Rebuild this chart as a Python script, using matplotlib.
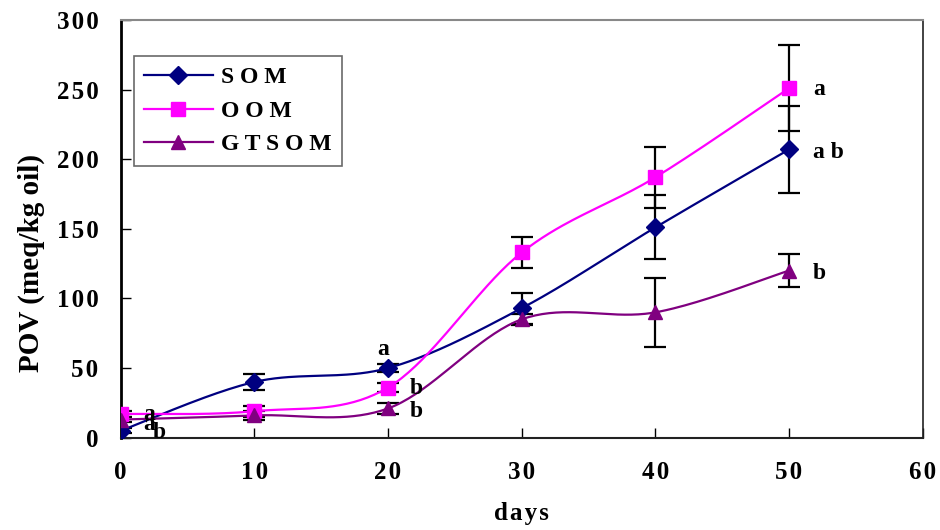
import numpy as np
import matplotlib
matplotlib.use("Agg")
import matplotlib.pyplot as plt
from matplotlib.lines import Line2D
from matplotlib.ticker import FuncFormatter

# Storage time (days) and peroxide values (meq/kg oil)
days = [0, 10, 20, 30, 40, 50]
som = [5, 40, 50, 93, 151, 207]
som_err = [2, 6, 3, 11, 23, 31]
oom = [17, 19, 36, 133, 187, 251]
oom_err = [2, 4, 3, 11, 22, 31]
gtsom = [13, 16, 21, 85, 90, 120]
gtsom_err = [2, 3, 4, 4, 25, 12]

series_names = ["S O M", "O O M", "G T S O M"]
colors = ["#000080", "#FF00FF", "#800080"]
markers = ["D", "s", "^"]

# significance letters: (x, y, text)
letters = [
    (1.7, 16.5, "a"), (1.7, 9.5, "a"), (2.4, 3.5, "b"),
    (19.2, 63, "a"), (21.6, 35, "b"), (21.6, 19, "b"),
    (51.8, 250, "a"), (51.8, 205, "a b"), (51.8, 118, "b"),
]

FONT = "Liberation Serif"
HAIR = "\u200a"
plt.rcParams["font.family"] = [FONT, "DejaVu Serif"]


def spaced(s):
    return HAIR.join(s)


def smooth(x, y, n=40):
    """Catmull-Rom style smoothing of a polyline (Bezier, tension 1/6)."""
    x = np.asarray(x, float)
    y = np.asarray(y, float)
    px = np.concatenate([[x[0]], x, [x[-1]]])
    py = np.concatenate([[y[0]], y, [y[-1]]])
    xs, ys = [], []
    t = np.linspace(0, 1, n)
    for i in range(1, len(px) - 2):
        p0 = np.array([px[i], py[i]])
        p3 = np.array([px[i + 1], py[i + 1]])
        p1 = p0 + (np.array([px[i + 1], py[i + 1]]) - np.array([px[i - 1], py[i - 1]])) / 6
        p2 = p3 - (np.array([px[i + 2], py[i + 2]]) - np.array([px[i], py[i]])) / 6
        b = ((1 - t) ** 3)[:, None] * p0 + (3 * (1 - t) ** 2 * t)[:, None] * p1 \
            + (3 * (1 - t) * t ** 2)[:, None] * p2 + (t ** 3)[:, None] * p3
        xs.append(b[:, 0])
        ys.append(b[:, 1])
    return np.concatenate(xs), np.concatenate(ys)


fig = plt.figure(figsize=(9.4, 5.3), dpi=100)
ax = fig.add_axes([0.1284, 0.1742, 0.8532, 0.7881])

data = [(som, som_err), (oom, oom_err), (gtsom, gtsom_err)]
for (vals, err), c in zip(data, colors):
    ax.errorbar(days, vals, yerr=err, fmt="none", ecolor="black",
                elinewidth=1.6, capsize=8, capthick=1.6, zorder=2)

for (vals, err), c, m in zip(data, colors, markers):
    sx, sy = smooth(days, vals)
    ax.plot(sx, sy, color=c, lw=1.6, zorder=3)
    ms = 10 if m != "D" else 9.5
    ax.plot(days, vals, ls="none", marker=m, ms=ms, color=c,
            markeredgecolor=c, zorder=4)

for x, y, s in letters:
    ax.text(x, y, s, fontsize=17, fontweight="bold", family=FONT,
            ha="left", va="center", zorder=5)

ax.set_xlim(0, 60)
ax.set_ylim(0, 300)
ax.set_xticks(range(0, 61, 10))
ax.set_yticks(range(0, 301, 50))
fmt = FuncFormatter(lambda v, p: spaced(f"{v:.0f}"))
ax.xaxis.set_major_formatter(fmt)
ax.yaxis.set_major_formatter(fmt)
ax.tick_params(direction="in", length=7, width=1)
ax.tick_params(axis="x", pad=17)
ax.tick_params(axis="y", pad=16)
for lab in ax.get_xticklabels() + ax.get_yticklabels():
    lab.set_fontsize(18)
    lab.set_fontweight("bold")

ax.spines["left"].set_linewidth(2)
ax.spines["left"].set_color("black")
ax.spines["bottom"].set_linewidth(1.5)
ax.spines["bottom"].set_color("#222222")
ax.spines["top"].set_linewidth(1.5)
ax.spines["top"].set_color("#888888")
ax.spines["right"].set_linewidth(1.2)
ax.spines["right"].set_color("#222222")

ax.set_xlabel(spaced("days"), fontsize=18, fontweight="bold")
ax.xaxis.set_label_coords(0.5, -0.155)
ax.set_ylabel("POV (meq/kg oil)", fontsize=21, fontweight="bold")
ax.yaxis.set_label_coords(-0.095, 0.417)

handles = [Line2D([0], [0], color=c, lw=1.6, marker=m, ms=(9.5 if m == "D" else 10),
                  markeredgecolor=c) for c, m in zip(colors, markers)]
leg = ax.legend(handles, series_names, loc="upper left",
                bbox_to_anchor=(0.016, 0.913), frameon=True, fancybox=False,
                edgecolor="#444444", handlelength=2.9, handletextpad=0.35,
                borderpad=0.45, labelspacing=0.5, borderaxespad=0,
                prop={"family": FONT, "weight": "bold", "size": 17})
leg.get_frame().set_linewidth(1.2)

fig.savefig("out.png", dpi=100)
